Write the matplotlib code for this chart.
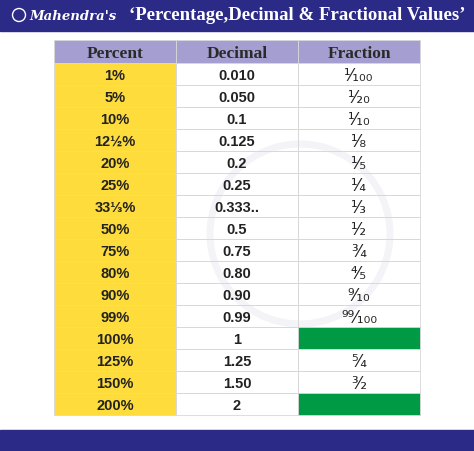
import matplotlib
matplotlib.use("Agg")
import matplotlib.pyplot as plt
from matplotlib.patches import Rectangle, Circle

headers = ["Percent", "Decimal", "Fraction"]
percents = ["1%", "5%", "10%", "12½%", "20%", "25%", "33⅓%", "50%", "75%", "80%",
            "90%", "99%", "100%", "125%", "150%", "200%"]
decimals = ["0.010", "0.050", "0.1", "0.125", "0.2", "0.25", "0.333..", "0.5", "0.75",
            "0.80", "0.90", "0.99", "1", "1.25", "1.50", "2"]
fractions = ["¹⁄₁₀₀", "¹⁄₂₀", "¹⁄₁₀", "¹⁄₈", "¹⁄₅", "¹⁄₄", "¹⁄₃", "¹⁄₂", "³⁄₄", "⁴⁄₅",
             "⁹⁄₁₀", "⁹⁹⁄₁₀₀", None, "⁵⁄₄", "³⁄₂", None]

W, H = 474, 452
fig = plt.figure(figsize=(W/100, H/100), dpi=100)
ax = fig.add_axes([0, 0, 1, 1])
ax.set_xlim(0, W); ax.set_ylim(H, 0); ax.axis("off")

navy = "#2B2A86"
ax.add_patch(Rectangle((0, 0), W, 32, color=navy))
ax.add_patch(Rectangle((0, 431), W, 21, color=navy))
ax.add_patch(Circle((19, 16), 6.5, fill=False, ec="white", lw=1))
ax.text(29, 16, "Mahendra's", color="white", fontsize=9.5, style="italic", weight="bold",
        family="DejaVu Serif", va="center", ha="left")
ax.text(466, 16, "‘Percentage,Decimal & Fractional Values’", color="white", fontsize=13.5,
        weight="bold", family="Liberation Serif", va="center", ha="right")

x0, cw = 54, 122
hy, hh = 41, 23
ry, rh = 64, 22
grid = "#d8d8d8"
for j, h in enumerate(headers):
    ax.add_patch(Rectangle((x0 + j*cw, hy), cw, hh, fc="#A49FD0", ec=grid, lw=0.6))
    ax.text(x0 + j*cw + cw/2, hy + hh/2 + 1, h, fontsize=12.5, weight="bold",
            family="Liberation Serif", color="#2a2a2a", ha="center", va="center")

# faint watermark
ax.add_patch(Circle((300, 235), 90, fill=False, ec="#f3f3f8", lw=5))

for i in range(len(percents)):
    y = ry + i*rh
    ax.add_patch(Rectangle((x0, y), cw, rh, fc="#FDDC3C", ec=grid, lw=0.6))
    ax.add_patch(Rectangle((x0 + cw, y), cw, rh, fc="none", ec=grid, lw=0.6))
    fc = "#009944" if fractions[i] is None else "none"
    ax.add_patch(Rectangle((x0 + 2*cw, y), cw, rh, fc=fc, ec=grid, lw=0.6))
    ax.text(x0 + cw/2, y + rh/2 + 1, percents[i], fontsize=10.5, weight="bold",
            family=["Liberation Sans", "DejaVu Sans"], color="#222", ha="center", va="center")
    ax.text(x0 + 1.5*cw, y + rh/2 + 1, decimals[i], fontsize=10.5, weight="bold",
            family="Liberation Sans", color="#222", ha="center", va="center")
    if fractions[i]:
        ax.text(x0 + 2.5*cw, y + rh/2 + 1, fractions[i], fontsize=12,
                family="DejaVu Sans", color="#222", ha="center", va="center")

fig.savefig("out.png", dpi=100)
